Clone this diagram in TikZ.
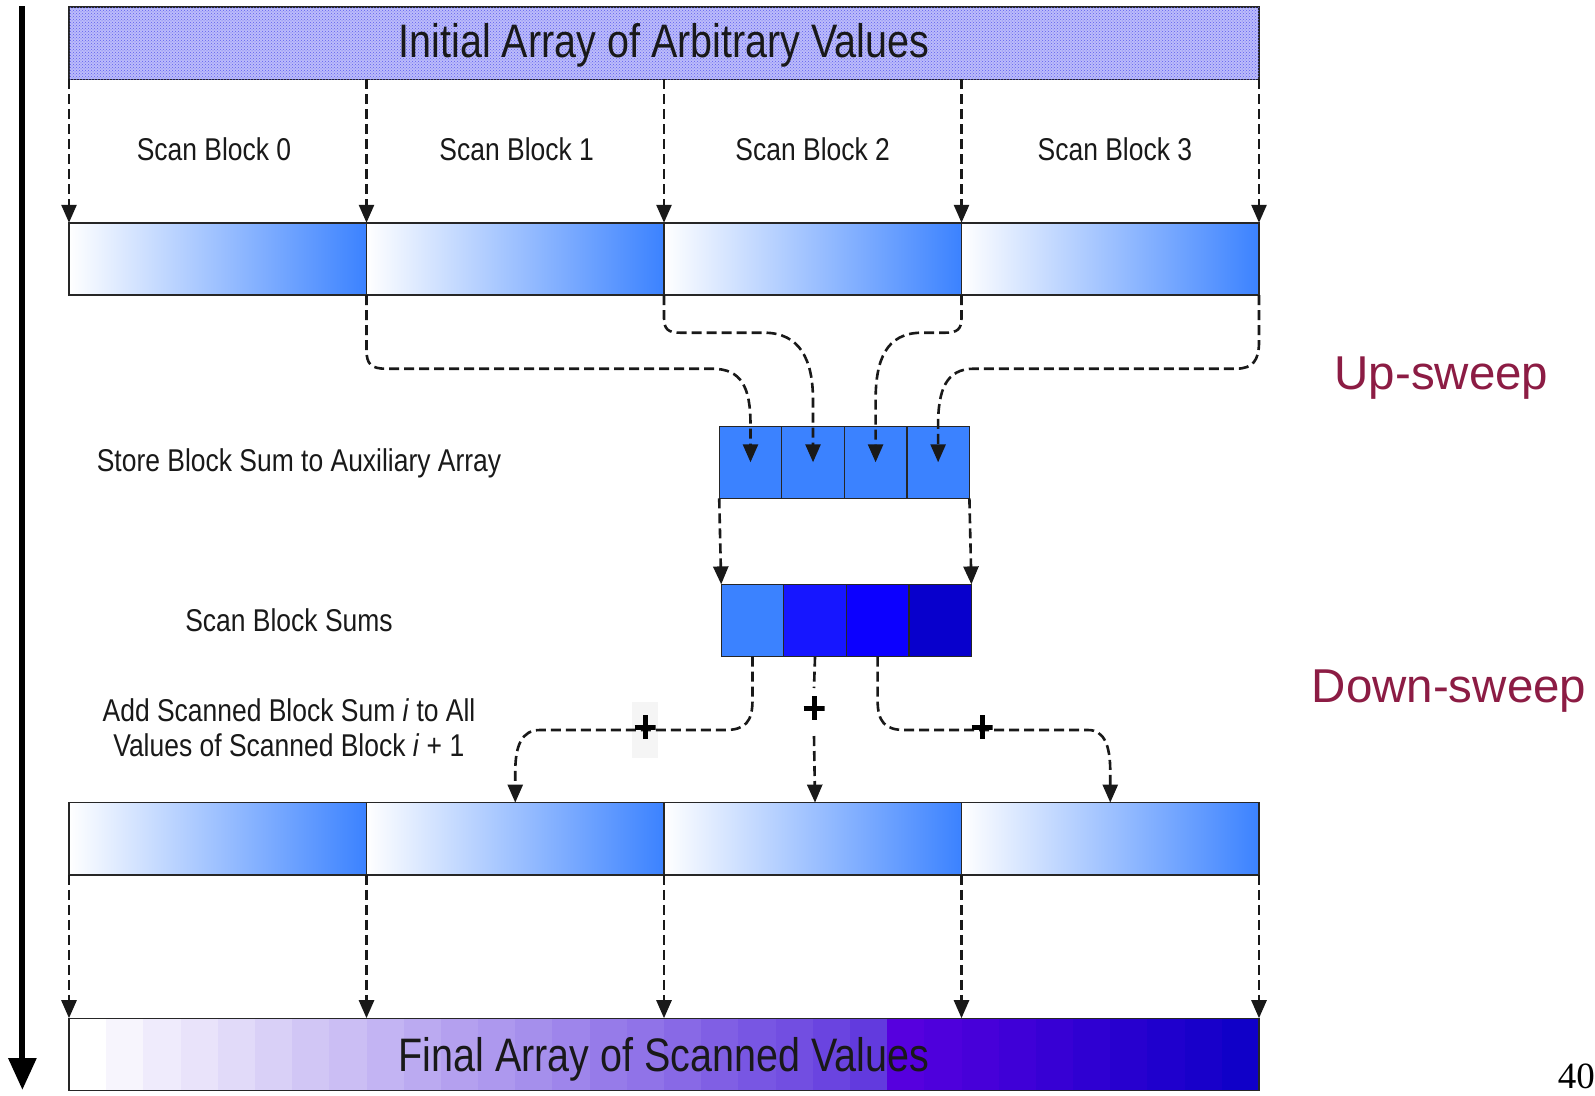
\documentclass[tikz,border=0pt]{standalone}
\usepackage{fontspec}
\setmainfont{Liberation Sans}
\newfontfamily\narrowfont[FakeStretch=0.84]{Liberation Sans}
\newfontfamily\sweepfont{Liberation Sans}
\newfontfamily\serifnum{Liberation Serif}
\usetikzlibrary{arrows.meta,patterns,calc}
\definecolor{blk}{RGB}{59,130,255}
\definecolor{sumA}{RGB}{59,130,255}
\definecolor{sumB}{RGB}{22,22,255}
\definecolor{sumC}{RGB}{12,0,255}
\definecolor{sumD}{RGB}{8,0,204}
\definecolor{fA}{RGB}{98,58,222}
\definecolor{fB}{RGB}{86,0,222}
\definecolor{fC}{RGB}{16,0,200}
\definecolor{lav}{RGB}{188,188,250}
\definecolor{lavdot}{RGB}{95,95,238}
\definecolor{maroon}{RGB}{140,28,68}
\begin{document}
\begin{tikzpicture}[x=1pt,y=-1pt,
  bar/.style={draw=black!85, line width=1.4pt, inner sep=0pt, outer sep=0pt, minimum height=72.2pt},
  grad/.style={bar, minimum width=297.5pt, left color=white, right color=blk},
  cell/.style={bar, minimum width=62.55pt},
  dl/.style={line width=2.6pt, dash pattern=on 10pt off 5pt, draw=black!90},
  tip/.style={-{Triangle[width=15pt,length=18pt]}},
  lab/.style={font=\narrowfont\fontsize{31.5}{36}\selectfont, inner sep=0pt, text=black!90},
  big/.style={font=\narrowfont\fontsize{47}{52}\selectfont, inner sep=0pt, text=black!90},
  sweep/.style={font=\sweepfont\fontsize{47.5}{52}\selectfont, inner sep=0pt, text=maroon},
  plus/.style={minimum width=21pt, minimum height=24pt, inner sep=0pt, outer sep=0pt,
    path picture={\draw[line width=5pt, black]
      (path picture bounding box.north) -- (path picture bounding box.south)
      (path picture bounding box.west) -- (path picture bounding box.east);}}
]
\useasboundingbox (0,0) rectangle (1595,1095);
\fill[white] (0,0) rectangle (1595,1095);

% left time arrow
\coordinate (ltop) at (22.4,6);
\coordinate (lbot) at (22.4,1090);
\draw[line width=6pt, -{Triangle[width=27pt,length=32pt]}] (ltop) -- (lbot);

% initial array
\node[bar, minimum width=1190pt, fill=lav, postaction={pattern=crosshatch dots, pattern color=lavdot}] (init) at (664,43.2) {};
\node[big, anchor=base] (inittxt) at (664,57) {Initial Array of Arbitrary Values};

% upper scan blocks
\node[grad] (u0) at (217.75,258.9) {};
\node[grad] (u1) at (515.25,258.9) {};
\node[grad] (u2) at (812.75,258.9) {};
\node[grad] (u3) at (1110.25,258.9) {};

\node[lab, anchor=base] (sb0) at (214,160.7) {Scan Block 0};
\node[lab, anchor=base] (sb1) at (516.7,160.7) {Scan Block 1};
\node[lab, anchor=base] (sb2) at (812.7,160.7) {Scan Block 2};
\node[lab, anchor=base] (sb3) at (1114.9,160.7) {Scan Block 3};

\draw[dl,tip] (init.south -| u0.north west) -- (u0.north west);
\draw[dl,tip] (init.south -| u0.north east) -- (u0.north east);
\draw[dl,tip] (init.south -| u1.north east) -- (u1.north east);
\draw[dl,tip] (init.south -| u2.north east) -- (u2.north east);
\draw[dl,tip] (init.south -| u3.north east) -- (u3.north east);

% auxiliary array
\node[cell, fill=blk] (a0) at (750.475,462.3) {};
\node[cell, fill=blk] (a1) at (813.025,462.3) {};
\node[cell, fill=blk] (a2) at (875.575,462.3) {};
\node[cell, fill=blk] (a3) at (938.125,462.3) {};

\draw[dl,tip] (u0.south east) -- (366.5,350) .. controls (366.5,364) and (371,368.7) .. (386,368.7)
  -- (712,368.7) .. controls (742,368.7) and (750.5,388) .. (750.5,425) -- (a0.center);
\draw[dl,tip] (u1.south east) -- (664,318) .. controls (664,329) and (668,332.7) .. (680,332.7)
  -- (764,332.7) .. controls (800,332.7) and (813,360) .. (813,400) -- (a1.center);
\draw[dl,tip] (u2.south east) -- (961.5,318) .. controls (961.5,329) and (957.5,332.7) .. (945.5,332.7)
  -- (922,332.7) .. controls (886,332.7) and (875.6,360) .. (875.6,400) -- (a2.center);
\draw[dl,tip] (u3.south east) -- (1259,342) .. controls (1259,360) and (1253,368.7) .. (1236,368.7)
  -- (974,368.7) .. controls (946,368.7) and (938.1,390) .. (938.1,425) -- (a3.center);

\node[lab, anchor=base west] (store) at (96.6,471) {Store Block Sum to Auxiliary Array};

% scanned block sums
\node[cell, fill=sumA] (s0) at (752.475,620.5) {};
\node[cell, fill=sumB] (s1) at (815.025,620.5) {};
\node[cell, fill=sumC] (s2) at (877.575,620.5) {};
\node[cell, fill=sumD] (s3) at (940.125,620.5) {};

\draw[dl,tip] (a0.south west) -- (s0.north west);
\draw[dl,tip] (a3.south east) -- (s3.north east);

\node[lab, anchor=base] (sbs) at (289,631.7) {Scan Block Sums};
\node[lab, anchor=base] (add1) at (289,721.7) {Add Scanned Block Sum \textit{i} to All};
\node[lab, anchor=base] (add2) at (288.8,756.7) {Values of Scanned Block \textit{i} + 1};

% lower scan blocks
\node[grad] (m0) at (217.75,838.7) {};
\node[grad] (m1) at (515.25,838.7) {};
\node[grad] (m2) at (812.75,838.7) {};
\node[grad] (m3) at (1110.25,838.7) {};

% down-sweep
\fill[black!4] (632,701.7) rectangle (657.6,758.3);
\draw[dl,tip] (s0.south) -- (752.5,700) .. controls (752.5,722) and (745,730) .. (725,730)
  -- (540,730) .. controls (522,730) and (515.25,745) .. (515.25,772) -- (m1.north);
\draw[dl,tip] (s2.south) -- (877.6,700) .. controls (877.6,722) and (885,730) .. (905,730)
  -- (1088,730) .. controls (1104,730) and (1110.25,745) .. (1110.25,772) -- (m3.north);
\node[plus] (pA) at (645,727) {};
\node[plus] (pC) at (982,727) {};
\node[plus] (pB) at (814,708) {};
\draw[dl] (s1.south) -- ($(pB.north)+(0,-8)$);
\draw[dl,tip] ($(pB.south)+(0,16)$) -- (s1.south |- m2.north);

% final array
\foreach \i in {0,...,21} {
  \pgfmathtruncatemacro\p{round(100*\i/21)}
  \fill[fA!\p!white] ({69+\i*37.1875},1018.2) rectangle ({69+(\i+1)*37.1875+0.6},1090.4);
}
\foreach \i in {22,...,31} {
  \pgfmathtruncatemacro\p{round(100-100*(\i-22)/9)}
  \fill[fB!\p!fC] ({69+\i*37.1875},1018.2) rectangle ({min(1259,69+(\i+1)*37.1875+0.6)},1090.4);
}
\node[bar, minimum width=1190pt] (f) at (664,1054.3) {};
\node[big, anchor=base] (ftxt) at (664,1071) {Final Array of Scanned Values};

\draw[dl,tip] (m0.south west) -- (m0.south west |- f.north);
\draw[dl,tip] (m0.south east) -- (m0.south east |- f.north);
\draw[dl,tip] (m1.south east) -- (m1.south east |- f.north);
\draw[dl,tip] (m2.south east) -- (m2.south east |- f.north);
\draw[dl,tip] (m3.south east) -- (m3.south east |- f.north);

% phase labels
\node[sweep, anchor=base] (up) at (1441.5,389.3) {Up-sweep};
\node[sweep, anchor=base] (down) at (1449,702.7) {Down-sweep};
\node[anchor=base east, font=\serifnum\fontsize{37}{40}\selectfont, inner sep=0pt] (pg) at (1595,1088) {40};
\end{tikzpicture}
\end{document}
